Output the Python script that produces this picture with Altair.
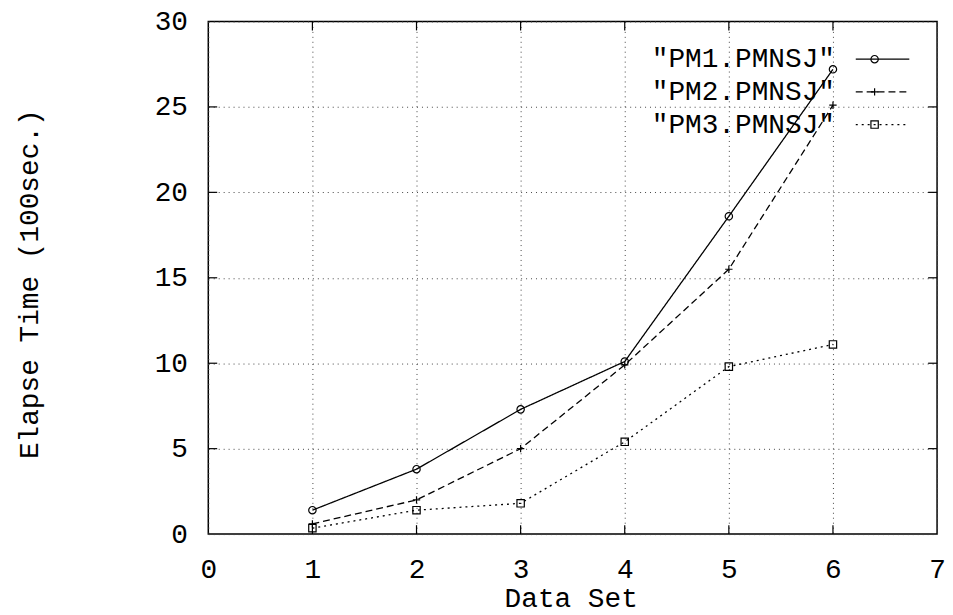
import altair as alt
import pandas as pd

# ---- data ----
series_names = ["PM1.PMNSJ", "PM2.PMNSJ", "PM3.PMNSJ"]
data_set = [1, 2, 3, 4, 5, 6]
pm1 = [1.4, 3.8, 7.3, 10.1, 18.6, 27.2]
pm2 = [0.6, 2.0, 5.0, 9.9, 15.5, 25.1]
pm3 = [0.35, 1.4, 1.8, 5.4, 9.8, 11.1]
x_ticks = [0, 1, 2, 3, 4, 5, 6, 7]
y_ticks = [0, 5, 10, 15, 20, 25, 30]

FONT = "Liberation Mono"
FS = 28
W, H = 735, 517

styles = [
    {"dash": [1, 0], "shape": "circle"},
    {"dash": [7, 4], "shape": "M-1,0L1,0M0,-1L0,1"},
    {"dash": [2, 4], "shape": "square"},
]

x_scale = alt.Scale(domain=[0, 7], nice=False, zero=False)
y_scale = alt.Scale(domain=[0, 30], nice=False, zero=False)

x_axis = alt.Axis(
    values=x_ticks, grid=True, gridDash=[1, 4], gridColor="#444", gridWidth=1,
    tickSize=0, domain=False, labelPadding=22, labelFont=FONT, labelFontSize=FS,
    labelColor="black", title="Data Set", titleFont=FONT, titleFontSize=FS,
    titleFontWeight="normal", titleColor="black", titleX=W / 2 - 2, titleY=65,
    titleBaseline="middle", titleAlign="center", labelFlush=False,
)
y_axis = alt.Axis(
    values=y_ticks, grid=True, gridDash=[1, 4], gridColor="#444", gridWidth=1,
    tickSize=0, domain=False, labelPadding=21, labelFont=FONT, labelFontSize=FS,
    labelColor="black", title="Elapse Time (100sec.)", titleFont=FONT,
    titleFontSize=FS, titleFontWeight="normal", titleColor="black",
    titleX=-180, titleY=H / 2 + 6, titleAngle=270, titleAlign="center",
    titleBaseline="middle", labelFlush=False,
)

rows = []
for name, vals in zip(series_names, [pm1, pm2, pm3]):
    for xv, yv in zip(data_set, vals):
        rows.append({"series": name, "x": xv, "y": yv})
df = pd.DataFrame(rows)

layers = []
for i, name in enumerate(series_names):
    sub = alt.Chart(df).transform_filter(alt.datum.series == name)
    line = sub.mark_line(color="black", strokeWidth=1.3, strokeDash=styles[i]["dash"]).encode(
        x=alt.X("x:Q", scale=x_scale, axis=x_axis),
        y=alt.Y("y:Q", scale=y_scale, axis=y_axis),
    )
    pts = sub.mark_point(shape=styles[i]["shape"], filled=False, color="black",
                         size=55, strokeWidth=1.2, opacity=1).encode(
        x=alt.X("x:Q", scale=x_scale, axis=x_axis),
        y=alt.Y("y:Q", scale=y_scale, axis=y_axis),
    )
    layers += [line, pts]

# inward tick marks on all four sides (gnuplot style)
xt = pd.DataFrame({"v": [1, 2, 3, 4, 5, 6]})
yt = pd.DataFrame({"v": [5, 10, 15, 20, 25]})
TL = 9
layers.append(alt.Chart(xt).mark_rule(color="black", strokeWidth=1.2).encode(
    x=alt.X("v:Q", scale=x_scale, axis=x_axis), y=alt.value(H), y2=alt.value(H - TL)))
layers.append(alt.Chart(xt).mark_rule(color="black", strokeWidth=1.2).encode(
    x=alt.X("v:Q", scale=x_scale, axis=x_axis), y=alt.value(0), y2=alt.value(TL)))
layers.append(alt.Chart(yt).mark_rule(color="black", strokeWidth=1.2).encode(
    y=alt.Y("v:Q", scale=y_scale, axis=y_axis), x=alt.value(0), x2=alt.value(TL)))
layers.append(alt.Chart(yt).mark_rule(color="black", strokeWidth=1.2).encode(
    y=alt.Y("v:Q", scale=y_scale, axis=y_axis), x=alt.value(W), x2=alt.value(W - TL)))

# manual gnuplot-style key (label, then line sample)
for i, name in enumerate(series_names):
    ly = 38 + 33 * i
    ldf = pd.DataFrame({"t": ['"' + name + '"']})
    layers.append(alt.Chart(ldf).mark_text(align="right", baseline="middle", font=FONT,
                                           fontSize=FS, color="black").encode(
        x=alt.value(632), y=alt.value(ly), text="t:N"))
    layers.append(alt.Chart(ldf).mark_rule(color="black", strokeWidth=1.2,
                                           strokeDash=styles[i]["dash"]).encode(
        x=alt.value(653), x2=alt.value(707), y=alt.value(ly)))
    layers.append(alt.Chart(ldf).mark_point(shape=styles[i]["shape"], filled=False,
                                            color="black", size=55, strokeWidth=1.2,
                                            opacity=1).encode(
        x=alt.value(672), y=alt.value(ly)))

chart = alt.layer(*layers).properties(
    width=W, height=H,
    autosize=alt.AutoSizeParams(type="none"),
    padding={"left": 202, "top": 11, "right": 8, "bottom": 79},
    background="white",
).configure_view(stroke="black", strokeWidth=1.5)

chart.save("out.html", embed_options={"renderer": "svg", "actions": False})
